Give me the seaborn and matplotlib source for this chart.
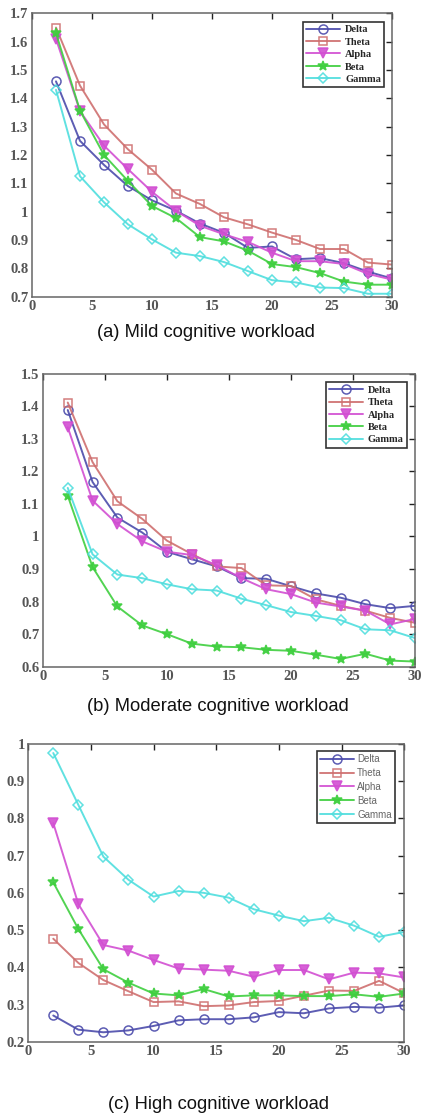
import matplotlib
matplotlib.use("Agg")
import matplotlib.pyplot as plt
import matplotlib.ticker as mticker
import seaborn as sns

# x axis: number of features / components
x_vals = [2, 4, 6, 8, 10, 12, 14, 16, 18, 20, 22, 24, 26, 28, 30]
bands = ["Delta", "Theta", "Alpha", "Beta", "Gamma"]

# (a) Mild cognitive workload
mild_delta = [1.46, 1.25, 1.165, 1.09, 1.04, 1.003, 0.958, 0.925, 0.872, 0.877, 0.832, 0.836, 0.818, 0.788, 0.764]
mild_theta = [1.65, 1.445, 1.308, 1.22, 1.148, 1.064, 1.027, 0.98, 0.955, 0.926, 0.90, 0.868, 0.868, 0.82, 0.813]
mild_alpha = [1.61, 1.355, 1.233, 1.15, 1.07, 1.003, 0.95, 0.92, 0.893, 0.855, 0.825, 0.825, 0.815, 0.78, 0.76]
mild_beta = [1.63, 1.357, 1.20, 1.108, 1.02, 0.977, 0.91, 0.895, 0.862, 0.815, 0.804, 0.783, 0.753, 0.742, 0.742]
mild_gamma = [1.43, 1.125, 1.033, 0.955, 0.902, 0.855, 0.843, 0.822, 0.79, 0.758, 0.75, 0.732, 0.73, 0.71, 0.71]

# (b) Moderate cognitive workload
mod_delta = [1.388, 1.167, 1.058, 1.012, 0.953, 0.93, 0.908, 0.872, 0.870, 0.847, 0.825, 0.812, 0.792, 0.78, 0.787]
mod_theta = [1.411, 1.228, 1.108, 1.054, 0.987, 0.946, 0.908, 0.903, 0.85, 0.848, 0.807, 0.787, 0.772, 0.75, 0.735]
mod_alpha = [1.335, 1.11, 1.038, 0.985, 0.953, 0.943, 0.912, 0.872, 0.838, 0.823, 0.797, 0.785, 0.772, 0.73, 0.747]
mod_beta = [1.125, 0.906, 0.785, 0.727, 0.70, 0.671, 0.662, 0.66, 0.652, 0.649, 0.637, 0.624, 0.64, 0.619, 0.616]
mod_gamma = [1.149, 0.945, 0.883, 0.872, 0.853, 0.838, 0.834, 0.809, 0.789, 0.768, 0.756, 0.743, 0.715, 0.712, 0.688]

# (c) High cognitive workload
high_delta = [0.271, 0.233, 0.226, 0.231, 0.243, 0.258, 0.261, 0.261, 0.266, 0.28, 0.277, 0.29, 0.294, 0.292, 0.298]
high_theta = [0.477, 0.412, 0.366, 0.336, 0.307, 0.309, 0.296, 0.298, 0.307, 0.31, 0.324, 0.338, 0.337, 0.364, 0.331]
high_alpha = [0.787, 0.57, 0.46, 0.445, 0.42, 0.397, 0.394, 0.391, 0.375, 0.393, 0.393, 0.368, 0.386, 0.384, 0.373]
high_beta = [0.628, 0.503, 0.395, 0.359, 0.33, 0.325, 0.342, 0.322, 0.325, 0.325, 0.323, 0.323, 0.328, 0.321, 0.33]
high_gamma = [0.975, 0.836, 0.697, 0.635, 0.59, 0.605, 0.60, 0.587, 0.556, 0.539, 0.524, 0.533, 0.512, 0.482, 0.495]

panels = [
    ([mild_delta, mild_theta, mild_alpha, mild_beta, mild_gamma], (0.7, 1.7), [0.7, 0.8, 0.9, 1.0, 1.1, 1.2, 1.3, 1.4, 1.5, 1.6, 1.7],
     "(a) Mild cognitive workload"),
    ([mod_delta, mod_theta, mod_alpha, mod_beta, mod_gamma], (0.6, 1.5), [0.6, 0.7, 0.8, 0.9, 1.0, 1.1, 1.2, 1.3, 1.4, 1.5],
     "(b) Moderate cognitive workload"),
    ([high_delta, high_theta, high_alpha, high_beta, high_gamma], (0.2, 1.0), [0.2, 0.3, 0.4, 0.5, 0.6, 0.7, 0.8, 0.9, 1.0],
     "(c) High cognitive workload"),
]

colors = ["#4b4bab", "#cf6f6f", "#d24fd2", "#3fcf3f", "#4fdede"]
markers = ["o", "s", "v", "*", "D"]
msizes = [6.5, 5.5, 6.5, 7.5, 5.5]
filled = [False, False, True, True, False]

sns.set_style("white")
plt.rcParams["font.family"] = ["Liberation Serif", "DejaVu Serif"]

fig = plt.figure(figsize=(4.21, 11.15), dpi=100)
axes_pos = [
    [0.076, 0.734, 0.855, 0.254],
    [0.102, 0.402, 0.884, 0.263],
    [0.067, 0.0655, 0.893, 0.2675],
]
captions = [(0.49, 0.702), (0.518, 0.366), (0.518, 0.009)]

for i, (series, ylim, yticks, caption) in enumerate(panels):
    ax = fig.add_axes(axes_pos[i])
    for name, vals, c, m, ms, f in zip(bands, series, colors, markers, msizes, filled):
        sns.lineplot(x=x_vals, y=vals, ax=ax, color=c, marker=m, markersize=ms,
                     markerfacecolor=(c if f else "none"), markeredgecolor=c,
                     markeredgewidth=1.1, linewidth=1.4, alpha=0.9, label=name)
    ax.set_xlim(0, 30)
    ax.set_ylim(*ylim)
    ax.set_xticks([0, 5, 10, 15, 20, 25, 30])
    ax.set_yticks(yticks)
    ax.yaxis.set_major_formatter(mticker.FormatStrFormatter("%g"))
    ax.tick_params(direction="in", top=True, right=True, length=4, width=1,
                   colors="#222222", labelcolor="#555555", labelsize=10.5, pad=2.5)
    for lbl in ax.get_xticklabels() + ax.get_yticklabels():
        lbl.set_fontweight("bold")
    for sp in ax.spines.values():
        sp.set_color("#666666")
        sp.set_linewidth(1.1)
    ax.set_xlabel("")
    ax.set_ylabel("")
    if i < 2:
        leg = ax.legend(loc="upper right", bbox_to_anchor=(0.978, 0.97),
                        frameon=True, fancybox=False, edgecolor="black",
                        prop={"family": ["Liberation Serif"], "weight": "bold", "size": 7.5},
                        handlelength=3.2, handletextpad=0.5, labelspacing=0.3,
                        borderpad=0.3, borderaxespad=0)
    else:
        leg = ax.legend(loc="upper right", bbox_to_anchor=(0.975, 0.975),
                        frameon=True, fancybox=False, edgecolor="black",
                        prop={"family": ["Liberation Sans"], "size": 7},
                        handlelength=3.5, handletextpad=0.3, labelspacing=0.4,
                        borderpad=0.3, borderaxespad=0)
        for t in leg.get_texts():
            t.set_color("#666666")
    leg.get_frame().set_linewidth(1.2)
    fig.text(captions[i][0], captions[i][1], caption, ha="center", va="center",
             fontsize=13.2, family=["Liberation Sans", "DejaVu Sans"], color="#111111")

fig.savefig("out.png", dpi=100)
